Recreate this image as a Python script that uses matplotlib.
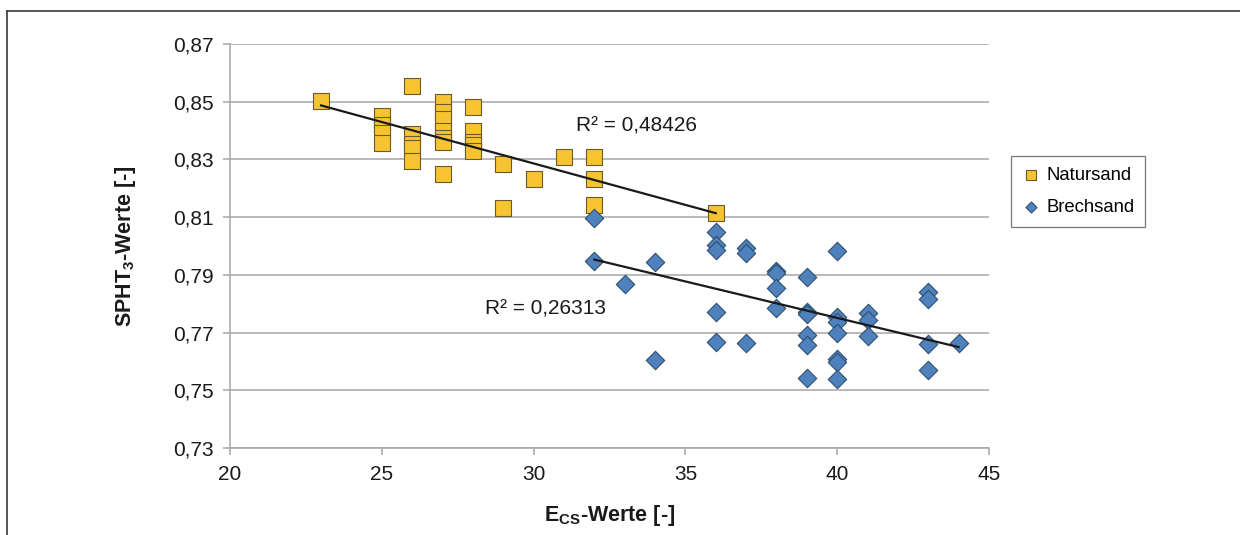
import matplotlib

matplotlib.use("Agg")

import matplotlib.pyplot as plt
import numpy as np
from matplotlib.lines import Line2D

plt.rcParams["font.family"] = ["Liberation Sans", "DejaVu Sans"]
plt.rcParams["mathtext.fontset"] = "custom"
plt.rcParams["mathtext.rm"] = "Liberation Sans"
plt.rcParams["mathtext.bf"] = "Liberation Sans:bold"

# Natursand (squares)
natur_x = [23, 25, 25, 25, 25, 26, 26, 26, 26, 26, 27, 27, 27, 27, 27, 27, 27,
           28, 28, 28, 28, 28, 29, 29, 30, 31, 32, 32, 32, 36]
natur_y = [0.8502, 0.8449, 0.8419, 0.8392, 0.8358, 0.8556, 0.8389, 0.8355,
           0.8340, 0.8294, 0.8498, 0.8465, 0.8441, 0.8400, 0.8374, 0.8360,
           0.8248, 0.8481, 0.8397, 0.8362, 0.8350, 0.8329, 0.8283, 0.8132,
           0.8231, 0.8307, 0.8308, 0.8231, 0.8141, 0.8115]

# Brechsand (diamonds)
brech_x = [32, 32, 33, 34, 34, 36, 36, 36, 36, 36, 37, 37, 37, 38, 38, 38, 38,
           39, 39, 39, 39, 39, 39, 40, 40, 40, 40, 40, 40, 40, 41, 41, 41,
           43, 43, 43, 43, 44]
brech_y = [0.8096, 0.7949, 0.7867, 0.7945, 0.7605, 0.8049, 0.8003, 0.7986,
           0.7772, 0.7668, 0.7992, 0.7977, 0.7663, 0.7914, 0.7905, 0.7853,
           0.7784, 0.7891, 0.7772, 0.7765, 0.7691, 0.7657, 0.7541, 0.7984,
           0.7755, 0.7738, 0.7700, 0.7610, 0.7599, 0.7538, 0.7767, 0.7743,
           0.7689, 0.7841, 0.7818, 0.7660, 0.7572, 0.7663]

r2_natur = "R² = 0,48426"
r2_brech = "R² = 0,26313"

YELLOW = "#F6C431"
BLUE = "#4F81BD"
GRID = "#A6A6A6"
TEXT = "#1a1a1a"

fig = plt.figure(figsize=(12.4, 5.35), dpi=100)
ax = fig.add_axes([230 / 1240, 1 - 448 / 535, (989 - 230) / 1240, (448 - 44) / 535])

# outer frame (only its top and left edges are visible in the crop)
fy = 1 - 11 / 535
fig.add_artist(Line2D([7 / 1240, 7 / 1240], [0, fy], transform=fig.transFigure,
                      color="#3a3a3a", lw=1.2))
fig.add_artist(Line2D([7 / 1240, 1], [fy, fy], transform=fig.transFigure,
                      color="#3a3a3a", lw=1.2))

ax.scatter(natur_x, natur_y, marker="s", s=135, c=YELLOW, edgecolors="#6b5a2a",
           linewidths=0.8, zorder=3, label="Natursand")
ax.scatter(brech_x, brech_y, marker="D", s=88, c=BLUE, edgecolors="#2f4f70",
           linewidths=0.8, zorder=3, label="Brechsand")

# linear trend lines over each series' x range
for xs, ys in ((natur_x, natur_y), (brech_x, brech_y)):
    xs = np.asarray(xs, float)
    k, d = np.polyfit(xs, np.asarray(ys), 1)
    xl = np.array([xs.min(), xs.max()])
    ax.plot(xl, k * xl + d, color=TEXT, lw=1.6, zorder=4)

ax.text(33.4, 0.8416, r2_natur, fontsize=15, ha="center", va="center", color=TEXT)
ax.text(30.4, 0.7780, r2_brech, fontsize=15, ha="center", va="center", color=TEXT)

yt = np.arange(0.73, 0.8701, 0.02)
ax.set_xlim(20, 45)
ax.set_ylim(0.73, 0.87)
ax.set_xticks(np.arange(20, 46, 5))
ax.set_yticks(yt)
ax.set_yticklabels([f"{v:.2f}".replace(".", ",") for v in yt])
ax.grid(axis="y", color=GRID, lw=1.1)
ax.set_axisbelow(True)
for s in ("top", "right"):
    ax.spines[s].set_visible(False)
for s in ("left", "bottom"):
    ax.spines[s].set_color(GRID)
    ax.spines[s].set_linewidth(1.1)
ax.tick_params(axis="both", colors=GRID, labelcolor=TEXT, labelsize=15,
               length=5, width=1.1)
ax.tick_params(axis="x", pad=7)
ax.tick_params(axis="y", pad=7)

ax.set_xlabel(r"E$_{\mathbf{CS}}$-Werte [-]", fontsize=15.5, fontweight="bold",
              color=TEXT, labelpad=14)
ax.set_ylabel(r"SPHT$_{\mathbf{3}}$-Werte [-]", fontsize=15.5, fontweight="bold",
              color=TEXT, labelpad=25)

leg = ax.legend(loc="upper left", bbox_to_anchor=(1011 / 1240, 1 - 156 / 535),
                bbox_transform=fig.transFigure, borderaxespad=0, fontsize=13.3,
                frameon=True, fancybox=False, edgecolor="#555555",
                markerscale=0.6, handletextpad=0.3, borderpad=0.6,
                labelspacing=0.8, handlelength=1.0)
leg.get_frame().set_linewidth(0.9)

fig.savefig("out.png", dpi=100)
